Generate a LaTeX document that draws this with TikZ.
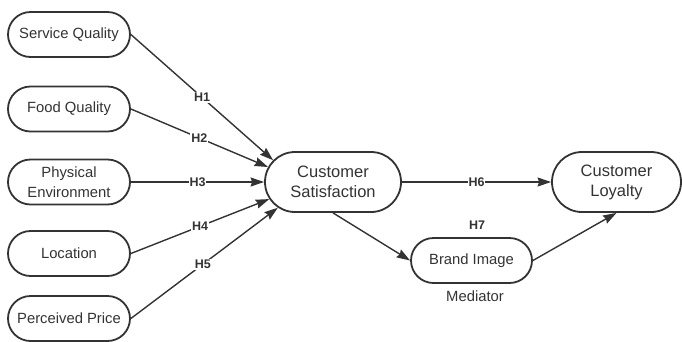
\documentclass[tikz,border=0pt]{standalone}
\usepackage{fontspec}
\setmainfont{Liberation Sans}
\usetikzlibrary{arrows.meta}
\usetikzlibrary{shapes.misc}
\definecolor{ink}{HTML}{333333}

\begin{document}
\begin{tikzpicture}[x=1pt,y=1pt]
\tikzstyle{every node}=[font=\fontsize{14.8}{20}\selectfont, text=ink]
\tikzstyle{box}=[rounded rectangle, draw=ink, line width=1.8pt, minimum width=122pt, minimum height=45pt, inner sep=0pt, align=center]
\tikzstyle{bigbox}=[box, minimum width=136pt, minimum height=60pt, font=\fontsize{16.5}{20}\selectfont]
\tikzstyle{hyp}=[fill=white, inner sep=1pt, font=\fontsize{12.5}{14}\selectfont\bfseries]
\tikzstyle{link}=[draw=ink, line width=1.4pt, -{Stealth[length=13.5pt, width=9pt, inset=1.5pt]}]
\useasboundingbox (0,0) rectangle (682,-341);
% antecedents
\node [box] (sq) at (69,-34.5) {Service Quality};
\node [box] (fq) at (69,-109) {Food Quality};
\node [box] (pe) at (69,-182) {Physical\\Environment};
\node [box] (loc) at (69,-253.5) {Location};
\node [box] (pp) at (69,-318.5) {Perceived Price};
% outcomes
\node [bigbox] (cs) at (333,-182) {Customer\\Satisfaction};
\node [bigbox, minimum width=129pt] (cl) at (616.5,-182) {Customer\\Loyalty};
\node [box, minimum width=121pt] (bi) at (471.5,-260.5) {Brand Image};
\node (mediator) at (475,-296) {Mediator};
\node [hyp] (h7) at (477,-225) {H7};
% hypotheses
\draw [link] (sq.east) -- (cs.160) node [hyp, pos=0.5] {H1};
\draw [link] (fq.east) -- (cs.167) node [hyp, pos=0.5] {H2};
\draw [link] (pe.east) -- (cs.west) node [hyp, pos=0.5] {H3};
\draw [link] (loc.east) -- (cs.195) node [hyp, pos=0.5] {H4};
\draw [link] (pp.east) -- (cs.205) node [hyp, pos=0.49] {H5};
\draw [link] (cs.east) -- (cl.west) node [hyp, pos=0.5] {H6};
\draw [link] (cs.south) -- (bi.west);
\draw [link] (bi.east) -- (cl.south);
\end{tikzpicture}
\end{document}
